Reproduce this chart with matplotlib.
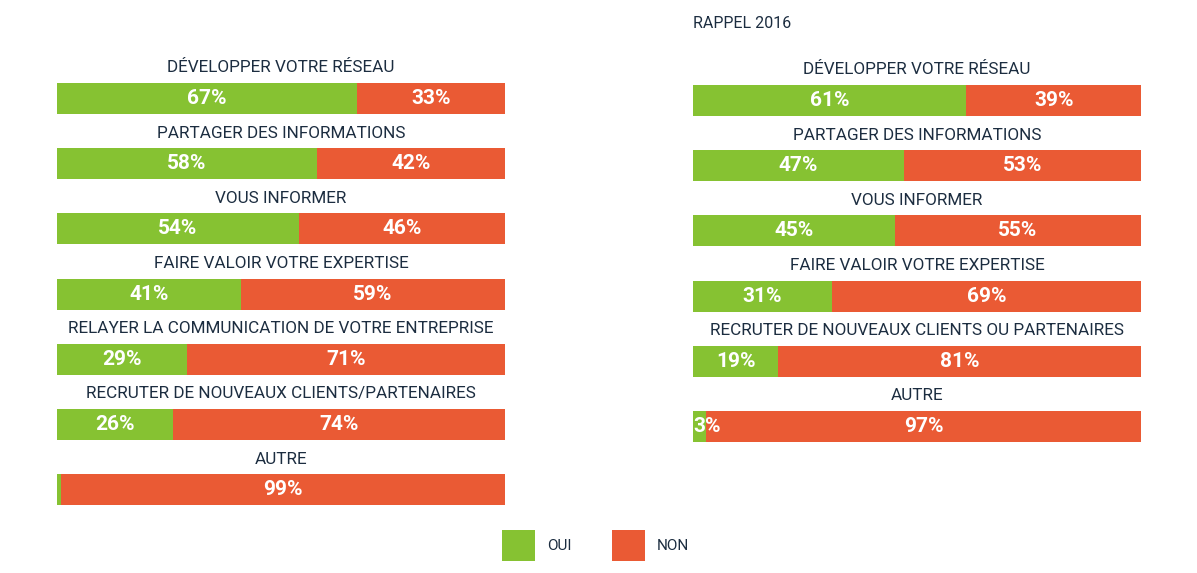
import matplotlib
matplotlib.use("Agg")
import matplotlib.pyplot as plt
from matplotlib.patches import Rectangle

# data
cats_2018 = ["DÉVELOPPER VOTRE RÉSEAU", "PARTAGER DES INFORMATIONS", "VOUS INFORMER",
             "FAIRE VALOIR VOTRE EXPERTISE", "RELAYER LA COMMUNICATION DE VOTRE ENTREPRISE",
             "RECRUTER DE NOUVEAUX CLIENTS/PARTENAIRES", "AUTRE"]
oui_2018 = [67, 58, 54, 41, 29, 26, 1]
non_2018 = [33, 42, 46, 59, 71, 74, 99]

cats_2016 = ["DÉVELOPPER VOTRE RÉSEAU", "PARTAGER DES INFORMATIONS", "VOUS INFORMER",
             "FAIRE VALOIR VOTRE EXPERTISE", "RECRUTER DE NOUVEAUX CLIENTS OU PARTENAIRES", "AUTRE"]
oui_2016 = [61, 47, 45, 31, 19, 3]
non_2016 = [39, 53, 55, 69, 81, 97]

series = ["OUI", "NON"]

GREEN = "#86C232"
RED = "#EA5A34"
NAVY = "#1C2D40"

W, H = 1197, 573
fig = plt.figure(figsize=(W / 100, H / 100), dpi=100)
fig.patch.set_facecolor("white")

pitch = 65.2   # px between rows
barh = 31      # px bar height


def px_axes(x0, y_top, width, nrows):
    height = (nrows - 1) * pitch + barh
    return fig.add_axes([x0 / W, 1 - (y_top + height) / H, width / W, height / H])


def draw_panel(ax, cats, oui, non):
    n = len(cats)
    half = barh / 2 / pitch
    ys = list(range(n))
    ax.barh(ys, oui, height=barh / pitch, color=GREEN, edgecolor="none")
    ax.barh(ys, non, left=oui, height=barh / pitch, color=RED, edgecolor="none")
    ax.set_xlim(0, 100)
    ax.set_ylim(n - 1 + half, -half)
    ax.axis("off")
    for y, c, a, b in zip(ys, cats, oui, non):
        ax.text(50, y - 0.47, c, ha="center", va="center", fontsize=12.3,
                family="Roboto", color=NAVY, clip_on=False)
        if a >= 5:
            ax.text(a / 2, y, f"{a}%", ha="center", va="center", fontsize=15,
                    fontweight="bold", family="Roboto", color="white")
        elif a >= 2:
            ax.text(0, y, f"{a}%", ha="left", va="center", fontsize=15,
                    fontweight="bold", family="Roboto", color="white")
        ax.text(a + b / 2, y, f"{b}%", ha="center", va="center", fontsize=15,
                fontweight="bold", family="Roboto", color="white")


ax1 = px_axes(57, 83, 448, len(cats_2018))
draw_panel(ax1, cats_2018, oui_2018, non_2018)

ax2 = px_axes(693, 85, 448, len(cats_2016))
draw_panel(ax2, cats_2016, oui_2016, non_2016)

fig.text(693 / W, 1 - 24 / H, "RAPPEL 2016", ha="left", va="center", fontsize=11.5,
         family="Roboto", color=NAVY)

# legend
for x0, col, lab in zip([502, 612], [GREEN, RED], series):
    fig.patches.append(Rectangle((x0 / W, 1 - 561 / H), 33 / W, 31 / H,
                                 transform=fig.transFigure, facecolor=col,
                                 edgecolor="none"))
    fig.text((x0 + 45) / W, 1 - 546 / H, lab, ha="left", va="center", fontsize=11,
             family="Roboto", color=NAVY)

fig.savefig("out.png", dpi=100, facecolor="white")
